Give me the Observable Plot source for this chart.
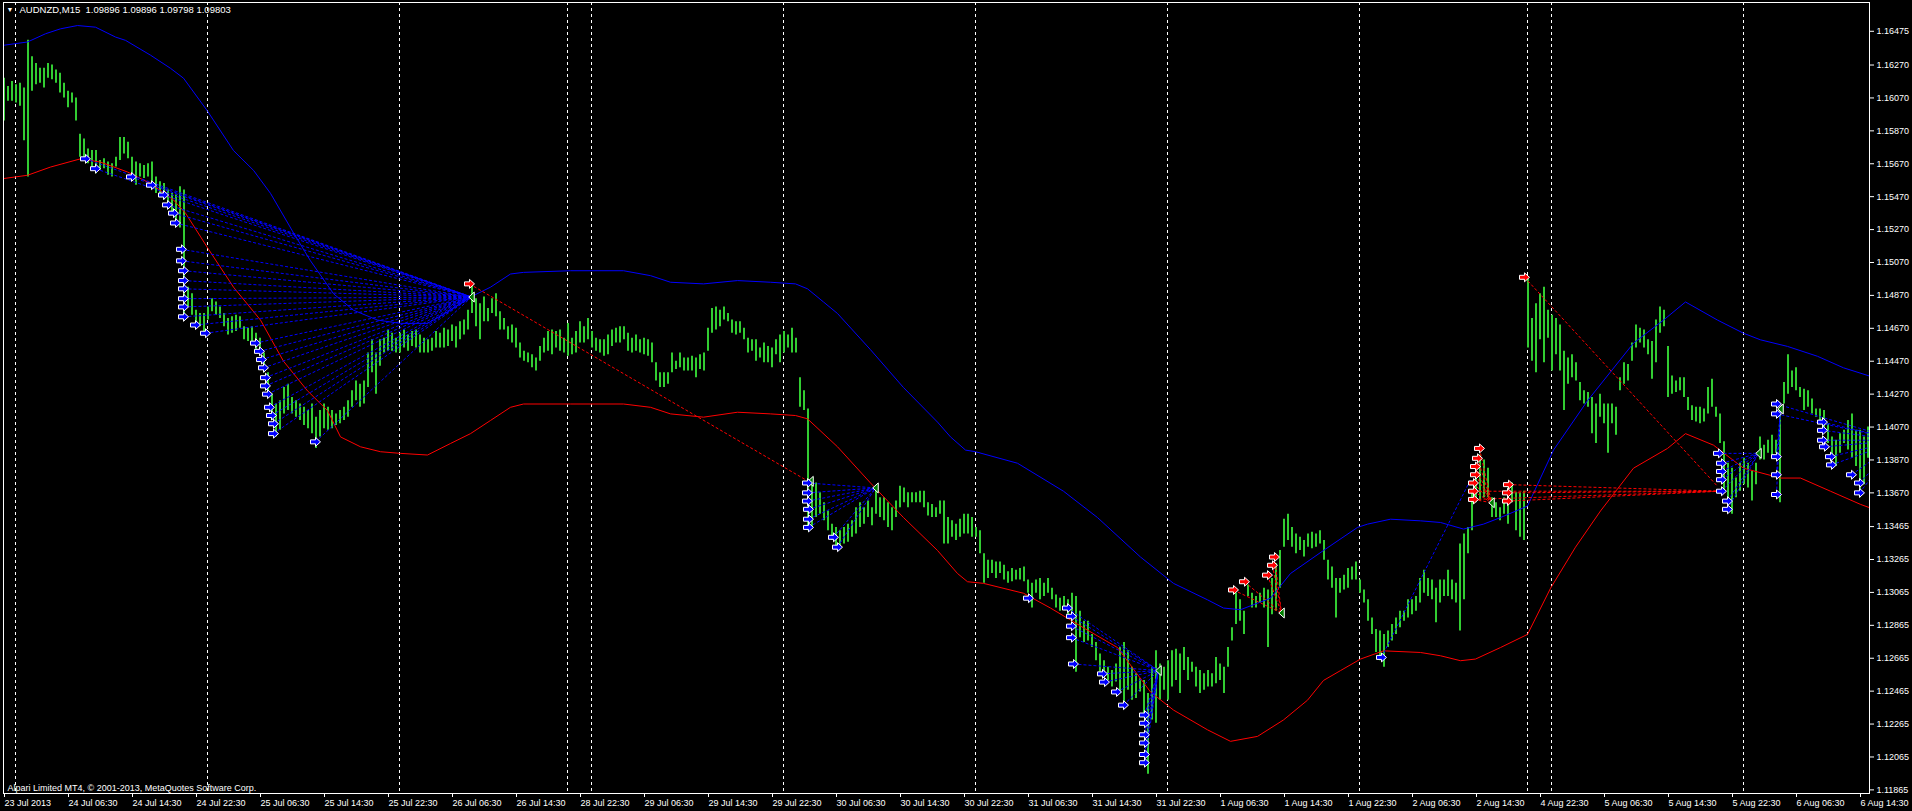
<!DOCTYPE html>
<html>
<head>
<meta charset="utf-8">
<script src="https://cdn.jsdelivr.net/npm/d3@7"></script>
<script src="https://cdn.jsdelivr.net/npm/@observablehq/plot@0.6"></script>
<style>
  body { margin: 0; background: #000; }
  #chart svg { display: block; }
</style>
</head>
<body>
<div id="chart"></div>
<script>
// AUDNZD M15 chart, price bars read at 30 min steps (index = 30 min slot)
const highs = [
  1.1619,1.1614,1.1617,1.1615,1.1616,1.1613,1.1642,1.1632,1.1628,1.1625,
  1.1625,1.1628,1.1627,1.1624,1.1622,1.1616,1.1611,1.1610,1.1607,1.1585,
  1.1582,1.1576,1.1575,1.1575,1.1569,1.1570,1.1568,1.1567,1.1571,1.1583,
  1.1583,1.1580,1.1571,1.1568,1.1567,1.1566,1.1567,1.1568,1.1559,1.1556,
  1.1555,1.1551,1.1549,1.1548,1.1553,1.1551,1.1492,1.1488,1.1478,1.1476,
  1.1476,1.1480,1.1485,1.1483,1.1480,1.1476,1.1473,1.1474,1.1475,1.1474,
  1.1468,1.1467,1.1468,1.1464,1.1461,1.1452,1.1440,1.1427,1.1421,1.1423,
  1.1431,1.1433,1.1425,1.1423,1.1421,1.1419,1.1417,1.1421,1.1413,1.1417,
  1.1421,1.1419,1.1417,1.1415,1.1417,1.1419,1.1423,1.1429,1.1435,1.1433,
  1.1435,1.1452,1.1460,1.1452,1.1460,1.1461,1.1466,1.1464,1.1461,1.1464,
  1.1466,1.1463,1.1465,1.1466,1.1463,1.1461,1.1460,1.1461,1.1465,1.1464,
  1.1467,1.1466,1.1469,1.1468,1.1471,1.1472,1.1478,1.1494,1.1485,1.1482,
  1.1486,1.1479,1.1485,1.1488,1.1477,1.1473,1.1468,1.1469,1.1467,1.1458,
  1.1453,1.1452,1.1451,1.1449,1.1456,1.1461,1.1465,1.1466,1.1465,1.1466,
  1.1461,1.1470,1.1461,1.1465,1.1471,1.1468,1.1473,1.1465,1.1461,1.1460,
  1.1460,1.1463,1.1466,1.1467,1.1468,1.1468,1.1464,1.1461,1.1463,1.1460,
  1.1461,1.1460,1.1458,1.1446,1.1440,1.1440,1.1440,1.1452,1.1447,1.1452,
  1.1449,1.1449,1.1450,1.1449,1.1451,1.1452,1.1467,1.1479,1.1480,1.1478,
  1.1480,1.1476,1.1472,1.1471,1.1471,1.1467,1.1461,1.1460,1.1460,1.1455,
  1.1458,1.1456,1.1455,1.1460,1.1463,1.1465,1.1463,1.1467,1.1461,1.1437,
  1.1429,1.1418,1.1374,1.1373,1.1367,1.1361,1.1356,1.1348,1.1346,1.1344,
  1.1346,1.1348,1.1350,1.1358,1.1361,1.1358,1.1362,1.1358,1.1370,1.1364,
  1.1364,1.1361,1.1358,1.1362,1.1371,1.1370,1.1367,1.1367,1.1367,1.1368,
  1.1368,1.1361,1.1360,1.1358,1.1362,1.1362,1.1352,1.1350,1.1348,1.1351,
  1.1354,1.1354,1.1352,1.1346,1.1344,1.1330,1.1326,1.1326,1.1325,1.1325,
  1.1323,1.1319,1.1321,1.1320,1.1321,1.1322,1.1314,1.1312,1.1314,1.1315,
  1.1312,1.1315,1.1309,1.1305,1.1303,1.1304,1.1302,1.1306,1.1304,1.1295,
  1.1289,1.1289,1.1281,1.1276,1.1269,1.1265,1.1261,1.1259,1.1263,1.1273,
  1.1276,1.1271,1.1261,1.1257,1.1254,1.1253,1.1245,1.1261,1.1271,1.1263,
  1.1261,1.1265,1.1271,1.1272,1.1269,1.1273,1.1267,1.1264,1.1261,1.1259,
  1.1257,1.1259,1.1257,1.1267,1.1263,1.1261,1.1273,1.1285,1.1306,1.1302,
  1.1295,1.1311,1.1306,1.1304,1.1306,1.1309,1.1308,1.1315,1.1324,1.1332,
  1.1351,1.1354,1.1346,1.1342,1.1340,1.1338,1.1342,1.1343,1.1342,1.1344,
  1.1338,1.1326,1.1322,1.1315,1.1315,1.1317,1.1321,1.1322,1.1325,1.1314,
  1.1308,1.1302,1.1291,1.1284,1.1283,1.1281,1.1283,1.1287,1.1291,1.1295,
  1.1295,1.1302,1.1302,1.1304,1.1315,1.1320,1.1315,1.1314,1.1309,1.1314,
  1.1314,1.1320,1.1314,1.1312,1.1336,1.1342,1.1346,1.1368,1.1385,1.1390,
  1.1387,1.1382,1.1364,1.1361,1.1358,1.1364,1.1370,1.1373,1.1367,1.1367,
  1.1368,1.1497,1.1473,1.1482,1.1488,1.1492,1.1478,1.1475,1.1473,1.1469,
  1.1453,1.1449,1.1451,1.1446,1.1434,1.1429,1.1428,1.1425,1.1421,1.1427,
  1.1421,1.1421,1.1421,1.1419,1.1437,1.1446,1.1445,1.1458,1.1469,1.1467,
  1.1466,1.1460,1.1459,1.1472,1.1480,1.1478,1.1456,1.1438,1.1435,1.1437,
  1.1437,1.1425,1.1420,1.1419,1.1419,1.1418,1.1431,1.1436,1.1419,1.1415,
  1.1398,1.1385,1.1382,1.1376,1.1385,1.1388,1.1385,1.1380,1.1385,1.1401,
  1.1396,1.1399,1.1402,1.1399,1.1418,1.1434,1.1451,1.1441,1.1443,1.1431,
  1.1430,1.1429,1.1424,1.1418,1.1418,1.1417,1.1409,1.1401,1.1399,1.1403,
  1.1405,1.1411,1.1415,1.1405,1.1405,1.1401,1.1407
];
const lows = [
  1.1593,1.1605,1.1605,1.1604,1.1602,1.1581,1.1559,1.1611,1.1615,1.1616,
  1.1613,1.1619,1.1618,1.1616,1.1610,1.1607,1.1601,1.1604,1.1593,1.1571,
  1.1569,1.1567,1.1564,1.1561,1.1563,1.1564,1.1560,1.1559,1.1565,1.1569,
  1.1573,1.1570,1.1558,1.1554,1.1559,1.1558,1.1559,1.1556,1.1549,1.1548,
  1.1545,1.1541,1.1537,1.1532,1.1528,1.1474,1.1480,1.1475,1.1470,1.1468,
  1.1464,1.1472,1.1477,1.1475,1.1473,1.1468,1.1463,1.1464,1.1465,1.1467,
  1.1460,1.1459,1.1458,1.1452,1.1452,1.1440,1.1425,1.1411,1.1401,1.1405,
  1.1415,1.1417,1.1415,1.1413,1.1411,1.1408,1.1406,1.1403,1.1394,1.1401,
  1.1406,1.1405,1.1406,1.1408,1.1409,1.1411,1.1413,1.1419,1.1423,1.1419,
  1.1421,1.1431,1.1440,1.1427,1.1444,1.1452,1.1453,1.1453,1.1452,1.1452,
  1.1455,1.1453,1.1456,1.1455,1.1452,1.1452,1.1452,1.1453,1.1455,1.1455,
  1.1455,1.1456,1.1459,1.1455,1.1460,1.1463,1.1466,1.1476,1.1468,1.1460,
  1.1471,1.1471,1.1476,1.1474,1.1466,1.1466,1.1460,1.1458,1.1455,1.1449,
  1.1447,1.1446,1.1443,1.1441,1.1447,1.1452,1.1453,1.1451,1.1455,1.1453,
  1.1452,1.1450,1.1451,1.1452,1.1458,1.1458,1.1460,1.1455,1.1453,1.1452,
  1.1450,1.1451,1.1456,1.1458,1.1458,1.1460,1.1453,1.1452,1.1453,1.1452,
  1.1451,1.1450,1.1446,1.1435,1.1431,1.1431,1.1433,1.1440,1.1442,1.1443,
  1.1441,1.1441,1.1441,1.1437,1.1442,1.1441,1.1453,1.1464,1.1466,1.1468,
  1.1472,1.1471,1.1464,1.1463,1.1464,1.1460,1.1452,1.1453,1.1447,1.1449,
  1.1446,1.1446,1.1443,1.1451,1.1446,1.1452,1.1455,1.1452,1.1452,1.1419,
  1.1417,1.1344,1.1346,1.1352,1.1354,1.1350,1.1344,1.1338,1.1334,1.1335,
  1.1336,1.1337,1.1340,1.1342,1.1346,1.1348,1.1352,1.1347,1.1354,1.1352,
  1.1350,1.1346,1.1344,1.1352,1.1358,1.1361,1.1358,1.1361,1.1361,1.1361,
  1.1358,1.1353,1.1352,1.1352,1.1354,1.1336,1.1336,1.1340,1.1338,1.1340,
  1.1342,1.1342,1.1340,1.1340,1.1330,1.1312,1.1315,1.1318,1.1315,1.1318,
  1.1314,1.1312,1.1313,1.1314,1.1314,1.1313,1.1306,1.1297,1.1306,1.1302,
  1.1304,1.1306,1.1302,1.1297,1.1295,1.1297,1.1293,1.1289,1.1258,1.1279,
  1.1276,1.1277,1.1273,1.1265,1.1258,1.1255,1.1253,1.1249,1.1252,1.1245,
  1.1240,1.1247,1.1241,1.1242,1.1246,1.1233,1.1196,1.1229,1.1227,1.1241,
  1.1247,1.1241,1.1249,1.1253,1.1245,1.1259,1.1253,1.1258,1.1249,1.1245,
  1.1247,1.1249,1.1249,1.1251,1.1253,1.1245,1.1261,1.1277,1.1287,1.1289,
  1.1281,1.1304,1.1297,1.1297,1.1300,1.1297,1.1273,1.1293,1.1295,1.1309,
  1.1334,1.1338,1.1334,1.1330,1.1332,1.1328,1.1334,1.1333,1.1334,1.1336,
  1.1326,1.1314,1.1309,1.1291,1.1306,1.1308,1.1309,1.1314,1.1314,1.1306,
  1.1300,1.1289,1.1281,1.1270,1.1265,1.1261,1.1273,1.1277,1.1281,1.1285,
  1.1289,1.1291,1.1293,1.1295,1.1300,1.1306,1.1304,1.1302,1.1288,1.1300,
  1.1304,1.1304,1.1302,1.1300,1.1283,1.1302,1.1330,1.1344,1.1361,1.1362,
  1.1364,1.1364,1.1352,1.1352,1.1350,1.1354,1.1348,1.1361,1.1344,1.1340,
  1.1338,1.1455,1.1447,1.1440,1.1460,1.1446,1.1461,1.1441,1.1451,1.1441,
  1.1417,1.1433,1.1437,1.1435,1.1423,1.1421,1.1419,1.1403,1.1397,1.1413,
  1.1409,1.1391,1.1409,1.1402,1.1429,1.1433,1.1435,1.1447,1.1455,1.1458,
  1.1455,1.1451,1.1436,1.1446,1.1464,1.1468,1.1425,1.1427,1.1428,1.1429,
  1.1425,1.1417,1.1411,1.1410,1.1409,1.1410,1.1415,1.1419,1.1413,1.1397,
  1.1368,1.1360,1.1354,1.1364,1.1368,1.1372,1.1370,1.1362,1.1372,1.1387,
  1.1387,1.1391,1.1388,1.1391,1.1361,1.1421,1.1427,1.1431,1.1429,1.1425,
  1.1417,1.1419,1.1415,1.1413,1.1409,1.1405,1.1397,1.1388,1.1383,1.1391,
  1.1397,1.1393,1.1388,1.1383,1.1364,1.1372,1.1388
];

// envelope lines: [slot, price]
const upperBand = [
  [0,1.1639],[6,1.1641],[10.5,1.1646],[14.25,1.1649],[18.5,1.1651],[23,1.1650],[28,1.1644],
  [30.5,1.1642],[36.75,1.1633],[41.75,1.1625],[45,1.1619],[51,1.1599],[57.5,1.1575],
  [62.5,1.1563],[66.75,1.1549],[72.5,1.1525],[76.75,1.1508],[82.5,1.1488],[87.5,1.1478],
  [93.5,1.1472],[99.25,1.1470],[106,1.1470],[111.75,1.1478],[116.75,1.1486],[121.75,1.1492],
  [126.75,1.1500],[130,1.1501],[141.75,1.1502],[155,1.1502],[161.75,1.1499],[166.75,1.1495],
  [175,1.1494],[183.5,1.1496],[191.75,1.1495],[198,1.1494],[201,1.1491],[205,1.1483],
  [208.5,1.1476],[216.75,1.1454],[225,1.1431],[233.5,1.1410],[236.75,1.1401],[240.5,1.1393],
  [243,1.1392],[253.5,1.1385],[265,1.1368],[273.5,1.1352],[284.25,1.1328],[292.5,1.1312],
  [301,1.1302],[305,1.1297],[309.25,1.1296],[316.75,1.1303],[321.75,1.1318],[330,1.1332],
  [338.5,1.1346],[341,1.1348],[346.75,1.1351],[354.25,1.1350],[359.25,1.1349],[365,1.1345],
  [370,1.1348],[374.25,1.1352],[381,1.1359],[387.5,1.1393],[396,1.1423],[407.5,1.1458],
  [415,1.1472],[420.5,1.1483],[428.5,1.1472],[435,1.1464],[439.25,1.1460],[446,1.1456],
  [453.5,1.1450],[460,1.1443],[466.5,1.1438]
];
const lowerBand = [
  [0,1.1558],[6,1.1560],[11.75,1.1565],[19.25,1.1570],[24.25,1.1568],[31,1.1562],
  [36.75,1.1555],[42.5,1.1545],[45.5,1.1537],[51,1.1516],[57.5,1.1492],[64.25,1.1472],
  [70,1.1447],[76,1.1429],[81,1.1417],[84.25,1.1401],[89.25,1.1395],[94.25,1.1392],
  [99.25,1.1391],[106,1.1390],[111.75,1.1397],[116.75,1.1403],[121.75,1.1411],[126.75,1.1419],
  [130,1.1421],[141.75,1.1421],[155,1.1421],[161.75,1.1419],[166.75,1.1415],[175,1.1413],
  [183.5,1.1416],[191.75,1.1415],[198,1.1414],[201,1.1412],[208.5,1.1395],[216.75,1.1373],
  [225,1.1352],[233.5,1.1332],[238.5,1.1318],[241,1.1313],[245,1.1312],[255,1.1306],
  [261.75,1.1297],[270,1.1285],[278.5,1.1273],[286.75,1.1246],[292.5,1.1235],[301,1.1223],
  [306.75,1.1216],[313.5,1.1219],[320,1.1229],[326,1.1241],[330,1.1253],[334.25,1.1259],
  [339.25,1.1266],[345,1.1271],[354.25,1.1270],[359.25,1.1268],[364.25,1.1265],[368,1.1266],
  [374.25,1.1273],[381,1.1281],[386.75,1.1309],[393,1.1334],[399.25,1.1356],[407.5,1.1382],
  [416,1.1394],[420.5,1.1403],[427.5,1.1396],[435,1.1382],[444.25,1.1376],[449.25,1.1376],
  [456.75,1.1368],[464.25,1.1360],[466.5,1.1358]
];

const yTicks = [1.16475,1.16270,1.16070,1.15870,1.15670,1.15470,1.15270,1.15070,1.14870,1.14670,
  1.14470,1.14270,1.14070,1.13870,1.13670,1.13465,1.13265,1.13065,1.12865,1.12665,
  1.12465,1.12265,1.12065,1.11865];
const timeLabels = ["23 Jul 2013","24 Jul 06:30","24 Jul 14:30","24 Jul 22:30","25 Jul 06:30",
  "25 Jul 14:30","25 Jul 22:30","26 Jul 06:30","26 Jul 14:30","28 Jul 22:30","29 Jul 06:30",
  "29 Jul 14:30","29 Jul 22:30","30 Jul 06:30","30 Jul 14:30","30 Jul 22:30","31 Jul 06:30",
  "31 Jul 14:30","31 Jul 22:30","1 Aug 06:30","1 Aug 14:30","1 Aug 22:30","2 Aug 06:30",
  "2 Aug 14:30","4 Aug 22:30","5 Aug 06:30","5 Aug 14:30","5 Aug 22:30","6 Aug 06:30","6 Aug 14:30"];
const dayStarts = [3,51,99,141,147,195,243,291,339,381,387,435];

// signal arrows [slot, price] and the point their dashed lines run to
const blueA = [[20.5,1.1570],[23,1.1564],[32,1.1559],[37,1.1554],[40,1.1548],[41,1.1542],
  [42.5,1.1537],[43,1.1531],[44.5,1.1515],[44.5,1.1508],[45,1.1502],[45,1.1496],[45,1.1491],
  [45,1.1485],[45,1.1480],[45,1.1474],[48,1.1469],[50.5,1.1464],[63,1.1458],[64,1.1453],
  [64.5,1.1448],[65,1.1443],[65.5,1.1437],[65.5,1.1432],[66,1.1427],[66.5,1.1419],[67,1.1414],
  [67.5,1.1409],[67.5,1.1403],[78,1.1398]];
const targetA = [117,1.1486];
const blueB = [[201,1.1373],[201,1.1367],[201,1.1362],[201.25,1.1357],[201.25,1.1351],
  [201.25,1.1346],[207.5,1.1340],[208.5,1.1334]];
const targetB = [218,1.1370];
const blueC = [[266,1.1297],[267,1.1292],[267,1.1286],[267,1.1279],[267.5,1.1263],[274.75,1.1257],
  [275.25,1.1252],[278.25,1.1246],[280,1.1238],[285.25,1.1232],[285.25,1.1227],[285.25,1.1220],
  [285.25,1.1215],[285.25,1.1208],[285.25,1.1203]];
const targetC = [288.75,1.1259];
const blueSingle = [[256.25,1.1303],[344.5,1.1267]];
const targetE = [366.75,1.1375];
const blueI = [[428.75,1.1391],[429.5,1.1385],[429.5,1.1380],[429.5,1.1375],[429.5,1.1368],
  [431,1.1362],[431,1.1357]];
const targetI = [438.75,1.1391];
const blueJ = [[443.25,1.1421],[443.25,1.1415],[443.25,1.1389],[443.25,1.1378],[443.25,1.1366]];
const targetJ = [444.25,1.1418];
const blueK = [[454.75,1.1410],[454.75,1.1405],[454.75,1.1399],[455.25,1.1395],[456.75,1.1389],
  [457,1.1384],[462,1.1378],[464,1.1373],[464,1.1367]];
const targetK = [474.25,1.1399];

const redA = [[116.5,1.1494]];
const targetRA = [200.5,1.1375];
const redD = [[307.5,1.1308],[310.25,1.1313],[316,1.1317],[317.25,1.1323],[317.75,1.1328]];
const targetD = [319.5,1.1294];
const redF = [[369,1.1394],[368.5,1.1388],[368,1.1383],[368,1.1378],[367.5,1.1373],
  [367.5,1.1368],[367.5,1.1363]];
const targetF = [372,1.1361];
const redG = [[376.25,1.1372],[376,1.1367],[376,1.1362]];
const targetG = [429.25,1.1368];
const redH = [[380.25,1.1498]];
const targetH = [428.5,1.1371];

const triangles = [[117,1.1486],[201.75,1.1374],[218,1.1370],[288.75,1.1259],[319.5,1.1294],
  [372,1.1361],[438.75,1.1391],[444.25,1.1418]];

const fan = (from, to) => from.map(([t, p]) => ({t1: t, p1: p, t2: to[0], p2: to[1]}));
const blueLinks = [
  ...fan(blueA, targetA), ...fan(blueB, targetB), ...fan(blueC, targetC),
  ...fan(blueSingle.slice(1), targetE), ...fan(blueI, targetI), ...fan(blueJ, targetJ),
  ...fan(blueJ.slice(0, 2), targetK), ...fan(blueK, targetK)
];
const redLinks = [
  ...fan(redA, targetRA), ...fan(redD, targetD), ...fan(redF, targetF),
  ...fan(redG, targetG), ...fan(redF.slice(5), targetG), ...fan(redH, targetH)
];
const blueArrows = [...blueA, ...blueB, ...blueC, ...blueSingle, ...blueI, ...blueJ, ...blueK];
const redArrows = [...redA, ...redD, ...redF, ...redG, ...redH];

// MT4 style arrow (points right) and small left-pointing triangle
const arrowSymbol = {
  draw(ctx, size) {
    const s = Math.sqrt(size / Math.PI);
    ctx.moveTo(-s, -s * 0.4);
    ctx.lineTo(0, -s * 0.4);
    ctx.lineTo(0, -s * 0.9);
    ctx.lineTo(s, 0);
    ctx.lineTo(0, s * 0.9);
    ctx.lineTo(0, s * 0.4);
    ctx.lineTo(-s, s * 0.4);
    ctx.closePath();
  }
};
const triSymbol = {
  draw(ctx, size) {
    const s = Math.sqrt(size / Math.PI);
    ctx.moveTo(-s * 0.55, 0);
    ctx.lineTo(s * 0.55, -s);
    ctx.lineTo(s * 0.55, s);
    ctx.closePath();
  }
};

const green = "#32cd32";
const font = "'Liberation Sans', Arial, sans-serif";

const chart = Plot.plot({
  width: 1912,
  height: 811,
  marginTop: 2,
  marginBottom: 18,
  marginLeft: 3,
  marginRight: 43,
  style: {background: "#000", color: "#fff", fontFamily: font, fontSize: "9px"},
  x: {domain: [0, 466.5]},
  y: {domain: [1.11843, 1.16650]},
  marks: [
    Plot.ruleX(dayStarts, {x: d => d, stroke: "#fff", strokeDasharray: "3,3"}),
    Plot.ruleX(highs, {x: (d, i) => i + 0.125, y1: d => d, y2: (d, i) => lows[i], stroke: green, strokeWidth: 2}),
    Plot.line(upperBand, {x: d => d[0], y: d => d[1], stroke: "#0000ff", strokeWidth: 1, clip: true}),
    Plot.line(lowerBand, {x: d => d[0], y: d => d[1], stroke: "#ff0000", strokeWidth: 1, clip: true}),
    Plot.link(blueLinks, {x1: "t1", y1: "p1", x2: "t2", y2: "p2", stroke: "#0000ff", strokeDasharray: "3,2", clip: true}),
    Plot.link(redLinks, {x1: "t1", y1: "p1", x2: "t2", y2: "p2", stroke: "#ff0000", strokeDasharray: "3,2", clip: true}),
    Plot.dot(triangles, {x: d => d[0], y: d => d[1], symbol: triSymbol, r: 5, fill: "#008000", stroke: "#fff", strokeWidth: 1}),
    Plot.dot(blueArrows, {x: d => d[0], y: d => d[1], symbol: arrowSymbol, r: 5, fill: "#0000ff", stroke: "#fff", strokeWidth: 1}),
    Plot.dot(redArrows, {x: d => d[0], y: d => d[1], symbol: arrowSymbol, r: 5, fill: "#ff0000", stroke: "#fff", strokeWidth: 1}),
    Plot.frame({stroke: "#fff"}),
    Plot.axisY(yTicks, {anchor: "right", tickSize: 4, tickPadding: 3, tickFormat: d => d.toFixed(5), fontSize: 9, label: null}),
    Plot.axisX(timeLabels.map((_, k) => k * 16), {anchor: "bottom", tickSize: 4, tickPadding: 2, textAnchor: "start", dx: 1,
      tickFormat: d => timeLabels[d / 16], fontSize: 9, label: null}),
    Plot.text(["\u25BC"], {frameAnchor: "top-left", dx: 3, dy: 5, fontSize: 7, fill: "#fff"}),
    Plot.text(["AUDNZD,M15\u00a0\u00a01.09896 1.09896 1.09798 1.09803"], {frameAnchor: "top-left", dx: 16, dy: 4, fontSize: 9.5, fill: "#fff"}),
    Plot.text(["Alpari Limited MT4, \u00a9 2001-2013, MetaQuotes Software Corp."], {frameAnchor: "bottom-left", dx: 4, dy: -3, fontSize: 9, fill: "#fff"})
  ]
});

d3.select("#chart").append(() => chart);
</script>
</body>
</html>
